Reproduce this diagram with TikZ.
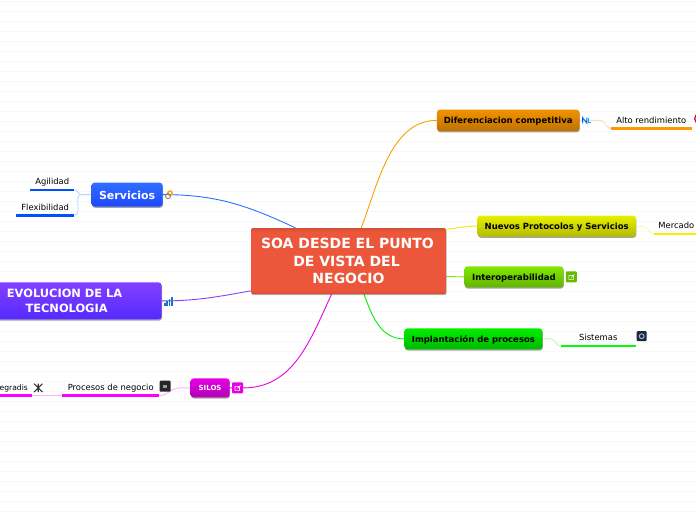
\documentclass[tikz,border=0pt]{standalone}
\usepackage{fontspec}
\setmainfont{DejaVu Sans}
\usetikzlibrary{positioning,shadows,backgrounds}
\definecolor{rootcol}{HTML}{EC573B}
\definecolor{rootdark}{HTML}{D24E35}
\definecolor{gridcol}{HTML}{F8F8F8}
\definecolor{difcol}{HTML}{F39200}
\definecolor{nuecol}{HTML}{E6F000}
\definecolor{intcol}{HTML}{7FE800}
\definecolor{impcol}{HTML}{00EE00}
\definecolor{sercol}{HTML}{2F6FFF}
\definecolor{evocol}{HTML}{8240FF}
\definecolor{silcol}{HTML}{E600E6}
\definecolor{darkcol}{HTML}{1E2A3A}
\definecolor{difline}{HTML}{FF9900}
\definecolor{nueline}{HTML}{F0F000}
\definecolor{impline}{HTML}{00FF00}
\definecolor{serline}{HTML}{0050FF}
\definecolor{silline}{HTML}{FF00FF}
\pgfdeclareverticalshading{rootshade}{100bp}{color(0bp)=(rootdark); color(25bp)=(rootdark); color(28bp)=(rootcol); color(72bp)=(rootcol); color(75bp)=(rootdark); color(100bp)=(rootdark)}

\begin{document}
\begin{tikzpicture}[
x=1pt,y=-1pt,
topic/.style={rectangle,rounded corners=3pt,inner sep=0pt,align=center,
  drop shadow={shadow xshift=0.5pt,shadow yshift=-1.2pt,opacity=.35,fill=black}},
main/.style={topic,top color=#1,bottom color=#1!78!black,text height=7pt,text depth=0pt,font=\fontsize{8.5}{10}\selectfont\bfseries},
side/.style={topic,top color=#1,bottom color=#1!65!blue,text=white,font=\fontsize{11}{14.5}\selectfont\bfseries},
leaf/.style={inner xsep=0pt,inner ysep=3pt,text height=7pt,text depth=2pt,font=\fontsize{8.4}{10}\selectfont},
uline/.style={line width=2.4pt,#1},
conn/.style={line width=0.9pt,#1},
sub/.style={line width=0.9pt,#1!30},
iconbox/.style={rectangle,rounded corners=1pt,inner sep=0pt,minimum size=10pt,fill=#1}
]
\useasboundingbox (0,0) rectangle (696,520);

\node[rectangle,rounded corners=2pt,inner sep=0pt,align=center,minimum width=195pt,minimum height=66pt,
  shading=rootshade,text=white,font=\fontsize{14}{17.2}\selectfont\bfseries,
  drop shadow={shadow xshift=0.5pt,shadow yshift=-1.2pt,opacity=.3,fill=black}]
  (root) at (348.5,261) {SOA DESDE EL PUNTO\kern2pt\\DE VISTA DEL\kern4pt\\NEGOCIO};

\node[main=difcol,minimum width=142.5pt,minimum height=21.5pt,above right=96.5pt and -9.5pt of root.north east] (dif) {Diferenciacion competitiva};
\node[main=nuecol,minimum width=158.5pt,minimum height=21pt,above right=-9pt and 31pt of root.north east] (nue) {Nuevos Protocolos y Servicios};
\node[main=intcol,minimum width=99pt,minimum height=21pt,below right=-28pt and 18pt of root.south east] (inter) {Interoperabilidad};
\node[main=impcol,minimum width=138pt,minimum height=21pt,below right=34pt and -42pt of root.south east] (imp) {Implantación de procesos};
\node[side=sercol,minimum width=71pt,minimum height=24pt,text height=9.4pt,text depth=0pt,above left=21pt and 88pt of root.north west] (ser) {Servicios};
\node[side=evocol,minimum width=194pt,minimum height=37pt,text depth=-2pt,font=\fontsize{11.4}{14.5}\selectfont\bfseries,below left=-12pt and 89pt of root.south west] (evo) {EVOLUCION DE LA\\\hspace*{4pt}TECNOLOGIA};
\node[topic,top color=silcol,bottom color=silcol!78!black,text=white,minimum width=39pt,minimum height=19pt,
  font=\fontsize{7}{8}\selectfont\bfseries,below left=84pt and 21pt of root.south west] (sil) {SILOS};

\node[leaf,minimum width=81pt,above right=3pt and 31pt of dif.south east] (alto) {Alto rendimiento};
\node[leaf,minimum width=45pt,above right=3pt and 17.5pt of nue.south east] (mer) {Mercado};
\node[leaf,minimum width=75pt,above right=3.5pt and 18pt of imp.south east] (sis) {Sistemas};
\node[leaf,minimum width=44pt,above left=17pt and 17pt of ser.south west] (agi) {Agilidad};
\node[leaf,minimum width=58pt,above left=-8.5pt and 17pt of ser.south west] (fle) {Flexibilidad};
\node[leaf,minimum width=97pt,above left=2pt and 31pt of sil.south west] (pro) {Procesos de negocio};
\node[leaf,minimum width=33pt,font=\fontsize{7.6}{10}\selectfont,above left=0pt and 30pt of pro.south west] (int) {egradis\kern3pt};

% icons
\node[iconbox=intcol!80!black,minimum size=11pt,right=2pt of inter] (icoint) {};
\draw[white,line width=0.6pt] (icoint.center) +(-2.5,-1.5) rectangle +(2,2.5) (icoint.center) +(0,0.5) -- +(3,-2.5);
\node[iconbox=silcol,minimum size=11pt,right=2pt of sil] (icosil) {};
\draw[white,line width=0.6pt] (icosil.center) +(-2.5,-1.5) rectangle +(2,2.5) (icosil.center) +(0,0.5) -- +(3,-2.5);
\node[iconbox=black!85,minimum size=11pt,above right=-4pt and 0pt of pro.east] (icopro) {};
\fill[white!60!black] (icopro.center) +(-2,-1.5) rectangle +(2,1.5);
\node[iconbox=darkcol,minimum size=10pt,above right=-3pt and 0.5pt of sis.east] (icosis) {};
\draw[white!70!blue,line width=0.9pt] (icosis.center) circle (2.4pt);
\node[circle,draw=red!85!blue,line width=1.2pt,minimum size=10pt,inner sep=0pt,right=2pt of alto.east,yshift=2pt] (icoalt) {};
\node[inner sep=0pt,minimum size=8pt,right=2pt of int.east] (icoigr) {};
\draw[black!80,line width=1.1pt] (icoigr.north west) -- (icoigr.south east) (icoigr.north east) -- (icoigr.south west) (icoigr.north) -- (icoigr.south);
% small marks next to the branches
\node[inner sep=0pt,minimum width=10pt,minimum height=9pt,right=2pt of ser] (icoser) {};
\draw[orange!70!yellow,line width=1.4pt] (icoser.center) +(0,-1.5) circle (2.2pt);
\draw[gray,line width=0.9pt] (icoser.center) +(-2,1.5) circle (2.5pt);
\node[inner sep=0pt,minimum width=9pt,minimum height=10pt,right=2pt of evo] (icoevo) {};
\foreach \i/\h in {0/3,1/5,2/7,3/9}
  \fill[cyan!55!blue] (icoevo.south west) ++(\i*2.4,0) rectangle ++(1.8,-\h);
\node[inner sep=0pt,minimum width=8pt,minimum height=5pt,right=3pt of dif] (icodif) {};
\draw[blue!60!cyan,line width=1pt] (icodif.south west) -- (icodif.north west) -- (icodif.south) -- (icodif.north) -- (icodif.south);
\draw[cyan,line width=1pt] (icodif.north) ++(2,0) -- ++(0,5) -- ++(2,0);

\begin{scope}[on background layer]
\foreach \k in {0,...,51}
  \draw[gridcol,line width=1pt] (0,\k*10+1.5) -- (696,\k*10+1.5);
\draw[conn=difcol!85!yellow] (root.69) to[out=69,in=180,looseness=0.9] (dif.west);
\draw[conn=nuecol] (root.18) to[out=5,in=180] (nue.west);
\draw[conn=intcol] (root.-9) -- (inter.west);
\draw[conn=impcol] (root.295) to[out=-70,in=180] (imp.west);
\draw[conn=sercol] (root.148) to[out=155,in=0] (ser.east);
\draw[conn=evocol] (root.197) to[out=190,in=0] (evo.east);
\draw[conn=silcol] (root.243) to[out=-115,in=0] (icosil.east) -- (sil.east);

\draw[sub=difcol] (dif.east) -- ++(21,0) to[out=0,in=180] (alto.south west);
\draw[sub=nuecol] (nue.east) -- ++(7,0) to[out=0,in=180] (mer.south west);
\draw[sub=impcol] (imp.east) -- ++(8,0) to[out=0,in=180] (sis.south west);
\draw[sub=sercol] (ser.west) -- ++(-10,0) to[out=180,in=0] (agi.south east);
\draw[sub=sercol] (ser.west) -- ++(-10,0) to[out=180,in=0] (fle.south east);
\draw[sub=silcol] (sil.west) -- ++(-11,0) to[out=180,in=0] (pro.south east);
\draw[sub=silcol] (pro.south west) -- (int.south east);
\end{scope}

\draw[uline=difline] (alto.south west) -- (alto.south east);
\draw[uline=nueline] (mer.south west) -- (mer.south east);
\draw[uline=impline] (sis.south west) -- (sis.south east);
\draw[uline=serline] (agi.south west) -- (agi.south east);
\draw[uline=serline] (fle.south west) -- (fle.south east);
\draw[uline=silline] (pro.south west) -- (pro.south east);
\draw[uline=silline] (int.south west) -- (int.south east);
\end{tikzpicture}
\end{document}
